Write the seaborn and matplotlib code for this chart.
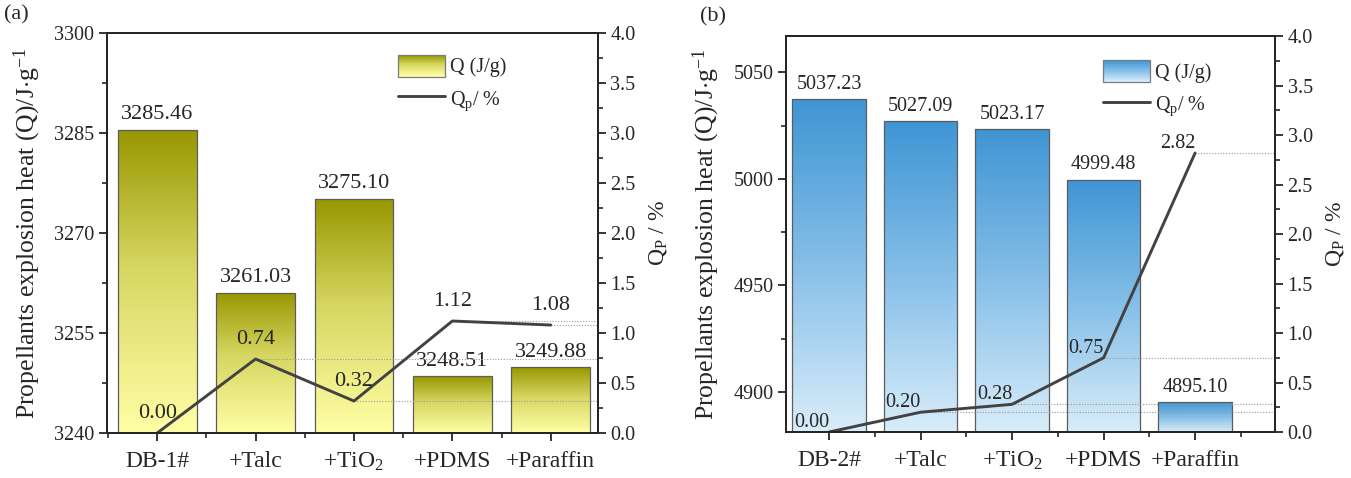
import numpy as np
import matplotlib
matplotlib.use("Agg")
import matplotlib.pyplot as plt
import seaborn as sns
from matplotlib.colors import LinearSegmentedColormap
from matplotlib.patches import Rectangle, Patch
from matplotlib.lines import Line2D
from matplotlib.legend_handler import HandlerBase

# ---- data ----
categories_a = ["DB-1#", "+Talc", "+TiO$_2$", "+PDMS", "+Paraffin"]
heat_a = [3285.46, 3261.03, 3275.10, 3248.51, 3249.88]
qp_a = [0.00, 0.74, 0.32, 1.12, 1.08]

categories_b = ["DB-2#", "+Talc", "+TiO$_2$", "+PDMS", "+Paraffin"]
heat_b = [5037.23, 5027.09, 5023.17, 4999.48, 4895.10]
qp_b = [0.00, 0.20, 0.28, 0.75, 2.82]

heat_ticks_a = [3240, 3255, 3270, 3285, 3300]
heat_ticks_b = [4900, 4950, 5000, 5050]
qp_ticks = [0.0, 0.5, 1.0, 1.5, 2.0, 2.5, 3.0, 3.5, 4.0]

# ---- style ----
sns.set_theme(style="ticks")
plt.rcParams["font.family"] = ["Liberation Serif", "DejaVu Serif"]
plt.rcParams["mathtext.fontset"] = "custom"
plt.rcParams["mathtext.rm"] = "Liberation Serif"
plt.rcParams["mathtext.it"] = "Liberation Serif:italic"
plt.rcParams["mathtext.bf"] = "Liberation Serif:bold"
plt.rcParams["axes.linewidth"] = 1.4

olive = LinearSegmentedColormap.from_list(
    "olive", [(0.0, "#979700"), (0.45, "#d6d662"), (1.0, "#ffffa6")])
blue = LinearSegmentedColormap.from_list(
    "blue", [(0.0, "#3f95d4"), (0.5, "#86bfe8"), (1.0, "#d9edfa")])
LINE_COLOR = "#424242"


class GradientPatchHandler(HandlerBase):
    """Legend handle drawn as a vertical colour gradient box."""

    def __init__(self, cmap, n=30, edge="#7a7a7a"):
        super().__init__()
        self.cmap = cmap
        self.n = n
        self.edge = edge

    def create_artists(self, legend, orig_handle, xdescent, ydescent,
                       width, height, fontsize, trans):
        artists = []
        step = height / self.n
        for i in range(self.n):
            y0 = -ydescent + i * step
            frac = 1 - i / (self.n - 1)
            artists.append(Rectangle((-xdescent, y0), width, step * 1.15,
                                     facecolor=self.cmap(frac), edgecolor="none",
                                     transform=trans))
        artists.append(Rectangle((-xdescent, -ydescent), width, height,
                                 fill=False, edgecolor=self.edge, lw=0.9,
                                 transform=trans))
        return artists


def gradient_bars(ax, cmap, ymin):
    grad = np.linspace(0, 1, 256).reshape(-1, 1)
    for p in ax.patches:
        x0 = p.get_x()
        w = p.get_width()
        top = p.get_y() + p.get_height()
        im = ax.imshow(grad, cmap=cmap, aspect="auto", origin="upper",
                       extent=[x0, x0 + w, ymin, top], zorder=2,
                       interpolation="bilinear")
        im.set_clip_path(p)
        p.set_facecolor("none")
        p.set_zorder(3)


def panel(ax, cats, heat, qp, cmap, ylim, yticks, xlim, qp_ha, qp_offset,
          legend_anchor, tag_fs):
    sns.barplot(x=cats, y=heat, ax=ax, color="#cccc55", width=0.8,
                errorbar=None, edgecolor="#5c5c5c", linewidth=0.9)
    gradient_bars(ax, cmap, ylim[0])
    ax.set_ylim(*ylim)
    ax.set_xlim(*xlim)
    ax.set_yticks(yticks)
    ax.yaxis.set_minor_locator(plt.MultipleLocator((yticks[1] - yticks[0]) / 2))
    ax.set_xticks(range(len(cats)))
    ax.set_xticklabels(cats, fontsize=17)
    ax.set_xticks(np.arange(-0.5, len(cats) + 0.5, 1), minor=True)
    ax.tick_params(axis="y", labelsize=14.5)
    ax.tick_params(which="major", direction="out", length=6, width=1.3, pad=3)
    ax.tick_params(which="minor", direction="out", length=3.5, width=1.2)
    ax.tick_params(axis="x", which="major", pad=7)
    ax.set_ylabel("Propellants explosion heat (Q)/J$\\cdot$g$^{-1}$",
                  fontsize=18.5, labelpad=8)
    ax.set_xlabel("")

    for i, v in enumerate(heat):
        ax.annotate(f"{v:.2f}", (i, v), xytext=(0, 4), textcoords="offset points",
                    ha="center", va="bottom", fontsize=tag_fs, zorder=5)

    ax2 = ax.twinx()
    xs = np.arange(len(qp))
    sns.lineplot(x=xs, y=qp, ax=ax2, color=LINE_COLOR, linewidth=2.1)
    ax2.set_ylim(0, 4)
    ax2.set_yticks(qp_ticks)
    ax2.set_yticklabels([f"{t:.1f}" for t in qp_ticks])
    ax2.yaxis.set_minor_locator(plt.MultipleLocator(0.25))
    ax2.tick_params(axis="y", labelsize=14.5)
    ax2.tick_params(which="major", direction="out", length=6, width=1.3, pad=3)
    ax2.tick_params(which="minor", direction="out", length=3.5, width=1.2)
    ax2.set_ylabel("Q$_\\mathregular{P}$ / %", fontsize=17, labelpad=8)
    ax2.set_xlim(*xlim)

    for i, v in enumerate(qp):
        ax2.hlines(v, i, xlim[1], colors="#9a9a9a", linestyles=(0, (1, 1.5)),
                   linewidth=0.8, zorder=1)
        ax2.annotate(f"{v:.2f}", (i, v), xytext=qp_offset,
                     textcoords="offset points", ha=qp_ha, va="bottom",
                     fontsize=tag_fs, zorder=5)

    bar_handle = Patch()
    line_handle = Line2D([], [], color=LINE_COLOR, lw=2.1)
    ax2.legend([bar_handle, line_handle], ["Q (J/g)", "Q$_\\mathregular{p}$/ %"],
               handler_map={bar_handle: GradientPatchHandler(cmap)},
               loc="upper left", bbox_to_anchor=legend_anchor, frameon=False,
               fontsize=14.5, handlelength=2.35, handleheight=1.3,
               handletextpad=0.25, labelspacing=0.5, borderpad=0,
               borderaxespad=0)

    # restore categorical labels on the shared x axis
    ax.set_xticks(range(len(cats)))
    ax.set_xticklabels(cats, fontsize=17)
    return ax2


fig = plt.figure(figsize=(13.51, 4.78), dpi=100)
ax_a = fig.add_axes([0.0792, 0.0941, 0.3634, 0.8368])
ax_b = fig.add_axes([0.5818, 0.0962, 0.3620, 0.8280])

panel(ax_a, categories_a, heat_a, qp_a, olive, (3240, 3300), heat_ticks_a,
      (-0.51, 4.48), "center", (0, 7), (0.593, 0.946), 16)
panel(ax_b, categories_b, heat_b, qp_b, blue, (4881.25, 5066.9), heat_ticks_b,
      (-0.47, 4.874), "right", (0, 0), (0.648, 0.940), 14.5)

fig.text(0.003, 0.99, "(a)", fontsize=16, va="top", ha="left")
fig.text(0.518, 0.985, "(b)", fontsize=16, va="top", ha="left")

fig.savefig("out.png", dpi=100)
